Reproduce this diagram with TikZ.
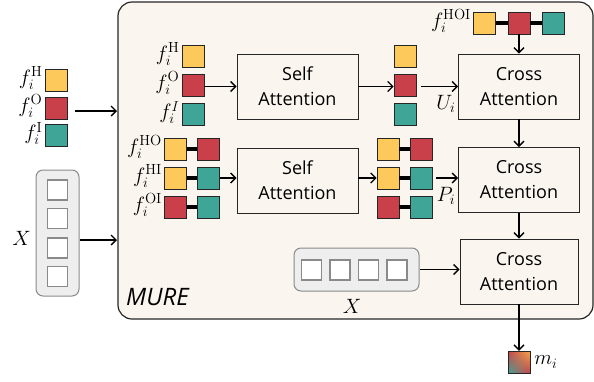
\documentclass[tikz,border=0pt]{standalone}
\usepackage{fontspec}
\setsansfont{Open Sans}
\usetikzlibrary{arrows.meta,positioning,shadings}
\definecolor{cyel}{HTML}{FDC95A}
\definecolor{cred}{HTML}{C9404A}
\definecolor{cteal}{HTML}{3FA596}
\definecolor{cream}{HTML}{FAF5EF}
\definecolor{xfill}{HTML}{EEEEEE}
\definecolor{xline}{HTML}{8A8A8A}
\definecolor{corange}{HTML}{F5A94A}
\tikzset{
  sq/.style={draw=black!85, line width=0.8pt, minimum size=22pt, inner sep=0pt},
  ys/.style={sq, fill=cyel},
  rs/.style={sq, fill=cred},
  ts/.style={sq, fill=cteal},
  ws/.style={draw=xline, line width=1.4pt, fill=white, minimum size=20pt, inner sep=0pt},
  blk/.style={draw=black!85, line width=0.9pt, fill=cream, minimum width=121pt, minimum height=65pt,
    align=center, font=\sffamily\fontsize{18}{25}\selectfont, inner sep=0pt},
  arr/.style={-{Straight Barb[length=5pt,width=10pt]}, line width=1.3pt},
  link/.style={line width=3.5pt},
  lab/.style={font=\fontsize{21}{24}\selectfont, inner sep=1pt},
}
\begin{document}
\begin{tikzpicture}[x=1pt,y=-1pt]
\useasboundingbox (0,0) rectangle (594,381);
% main box
\node[draw=black!85, line width=1.2pt, fill=cream, rounded corners=14pt, minimum width=475pt, minimum height=317pt, inner sep=0pt] (mure) at (355.5,160.5) {};
\node[font=\sffamily\itshape\fontsize{24}{26}\selectfont, anchor=west, inner sep=0pt] (murelab) at (126,297) {MURE};

% left inputs
\node[ys] (lh) at (56,80) {};
\node[rs] (lo) at (56,108) {};
\node[ts] (li) at (56,135.5) {};
\node[lab, anchor=east] (lhl) at ([xshift=-1pt,yshift=2pt]lh.west) {$f_i^{\mathrm{H}}$};
\node[lab, anchor=east] (lol) at ([xshift=-1pt,yshift=2pt]lo.west) {$f_i^{\mathrm{O}}$};
\node[lab, anchor=east] (lil) at ([xshift=-1pt,yshift=2pt]li.west) {$f_i^{\mathrm{I}}$};
\coordinate (lin) at (117,111);
\draw[arr] (75,111) -- (lin);

% left X column
\node[draw=xline, line width=1pt, fill=xfill, rounded corners=7pt, minimum width=43pt, minimum height=126pt, inner sep=0pt] (xcol) at (57.5,233) {};
\node[ws] (xc1) at (57.5,190) {};
\node[ws] (xc2) at (57.5,218.5) {};
\node[ws] (xc3) at (57.5,248) {};
\node[ws] (xc4) at (57.5,276.5) {};
\node[lab, anchor=east] (xcl) at (32,238) {$X$};
\coordinate (xin) at (117,240);
\draw[arr] (xcol.east |- xin) -- (xin);

% group 1
\node[ys] (g1h) at (193,56) {};
\node[rs] (g1o) at (193,85) {};
\node[ts] (g1i) at (193,114.5) {};
\node[lab, anchor=east] at ([xshift=-1pt,yshift=2pt]g1h.west) {$f_i^{\mathrm{H}}$};
\node[lab, anchor=east] at ([xshift=-1pt,yshift=2pt]g1o.west) {$f_i^{\mathrm{O}}$};
\node[lab, anchor=east] at ([xshift=-1pt,yshift=2pt]g1i.west) {$f_i^{I}$};
\node[blk] (sa1) at (297.5,86.5) {Self\\Attention};
\draw[arr] (g1o.east |- sa1.west) -- (sa1.west);
\node[ys] (u1) at (405,56) {};
\node[rs] (u2) at (405,85) {};
\node[ts] (u3) at (405,114.5) {};
\node[blk] (ca1) at (519,86.5) {Cross\\Attention};
\draw[arr] (sa1.east) -- (u2.west |- sa1.east);
\draw[arr] ([xshift=5pt]u2.east |- sa1.east) -- (ca1.west);
\node[lab] (ul) at (446,104) {$U_i$};

% HOI
\node[ys] (ho1) at (484.5,23) {};
\node[rs] (ho2) at (519,23) {};
\node[ts] (ho3) at (553.5,23) {};
\draw[link] (ho1.east) -- (ho2.west);
\draw[link] (ho2.east) -- (ho3.west);
\node[lab, anchor=east] at ([xshift=-1pt,yshift=2pt]ho1.west) {$f_i^{\mathrm{HOI}}$};
\draw[arr] (ho2.south) -- (ca1.north);

% group 2
\node[ys] (p1a) at (175.5,149) {};
\node[rs] (p1b) at (208.5,149) {};
\node[ys] (p2a) at (175.5,178) {};
\node[ts] (p2b) at (208.5,178) {};
\node[rs] (p3a) at (175.5,207) {};
\node[ts] (p3b) at (208.5,207) {};
\draw[link] (p1a.east) -- (p1b.west);
\draw[link] (p2a.east) -- (p2b.west);
\draw[link] (p3a.east) -- (p3b.west);
\node[lab, anchor=east] at ([xshift=-1pt,yshift=2pt]p1a.west) {$f_i^{\mathrm{HO}}$};
\node[lab, anchor=east] at ([xshift=-1pt,yshift=2pt]p2a.west) {$f_i^{\mathrm{HI}}$};
\node[lab, anchor=east] at ([xshift=-1pt,yshift=2pt]p3a.west) {$f_i^{\mathrm{OI}}$};
\node[blk] (sa2) at (297.5,180.5) {Self\\Attention};
\draw[arr] (p2b.east) -- (sa2.west |- p2b.east);
\node[ys] (q1a) at (388,149) {};
\node[rs] (q1b) at (421.5,149) {};
\node[ys] (q2a) at (388,178) {};
\node[ts] (q2b) at (421.5,178) {};
\node[rs] (q3a) at (388,207) {};
\node[ts] (q3b) at (421.5,207) {};
\draw[link] (q1a.east) -- (q1b.west);
\draw[link] (q2a.east) -- (q2b.west);
\draw[link] (q3a.east) -- (q3b.west);
\node[blk] (ca2) at (519,180) {Cross\\Attention};
\draw[arr] (sa2.east |- q2a.west) -- (q2a.west);
\draw[arr] ([xshift=3pt]q2b.east) -- (ca2.west |- q2b.east);
\node[lab] (pl) at (446,196) {$P_i$};
\draw[arr] (ca1.south) -- (ca2.north);

% group 3
\node[blk, minimum width=118pt] (ca3) at (519,271.5) {Cross\\Attention};
\draw[arr] (ca2.south) -- (ca3.north);
\node[draw=xline, line width=1pt, fill=xfill, rounded corners=7pt, minimum width=125pt, minimum height=43pt, inner sep=0pt] (xrow) at (356.5,269.5) {};
\node[ws] (xr1) at (311.5,270) {};
\node[ws] (xr2) at (340,270) {};
\node[ws] (xr3) at (368.5,270) {};
\node[ws] (xr4) at (397,270) {};
\node[lab] (xrl) at (352,306) {$X$};
\draw[arr] (xrow.east) -- (ca3.west |- xrow.east);

% output
\node[minimum size=22pt, inner sep=0pt,
  upper left=cred, upper right=corange, lower left=cteal, lower right=cred] (mi) at (519,362) {};
\node[sq, draw=black!85, fill=none] (mib) at (519,362) {};
\draw[arr] (ca3.south) -- (mi.north);
\node[lab, anchor=west] (mil) at ([xshift=3pt]mi.east) {$m_i$};
\end{tikzpicture}
\end{document}
